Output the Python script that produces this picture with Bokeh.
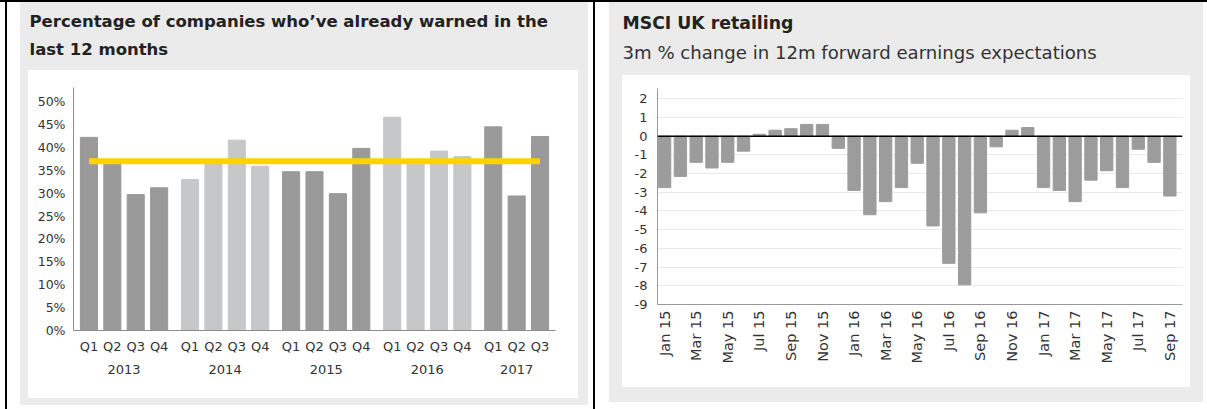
from math import pi
from bokeh.plotting import figure
from bokeh.models import (FactorRange, Range1d, FixedTicker, PrintfTickFormatter, Span, Label)
from bokeh.layouts import row, column
from bokeh.embed import file_html
from bokeh.resources import INLINE

# ---------------- data: left chart ----------------
years = ["2013", "2014", "2015", "2016", "2017"]
quarters_by_year = [["Q1", "Q2", "Q3", "Q4"], ["Q1", "Q2", "Q3", "Q4"],
                    ["Q1", "Q2", "Q3", "Q4"], ["Q1", "Q2", "Q3", "Q4"],
                    ["Q1", "Q2", "Q3"]]
warned_pct = [42.2, 37.0, 29.7, 31.2,
              33.0, 36.8, 41.6, 35.9,
              34.7, 34.7, 29.9, 39.8,
              46.6, 37.2, 39.2, 38.0,
              44.5, 29.4, 42.4]
average_pct = 37.0
left_y_ticks = [0, 5, 10, 15, 20, 25, 30, 35, 40, 45, 50]
left_title_1 = "Percentage of companies who\u2019ve already warned in the"
left_title_2 = "last 12 months"

# ---------------- data: right chart ----------------
months = ["Jan 15", "Feb 15", "Mar 15", "Apr 15", "May 15", "Jun 15", "Jul 15", "Aug 15",
          "Sep 15", "Oct 15", "Nov 15", "Dec 15",
          "Jan 16", "Feb 16", "Mar 16", "Apr 16", "May 16", "Jun 16", "Jul 16", "Aug 16",
          "Sep 16", "Oct 16", "Nov 16", "Dec 16",
          "Jan 17", "Feb 17", "Mar 17", "Apr 17", "May 17", "Jun 17", "Jul 17", "Aug 17",
          "Sep 17"]
earnings_change = [-2.75, -2.15, -1.4, -1.7, -1.4, -0.8, 0.1, 0.32, 0.4, 0.63, 0.63, -0.65,
                   -2.9, -4.2, -3.5, -2.75, -1.45, -4.8, -6.8, -7.95, -4.1, -0.57, 0.32, 0.46,
                   -2.75, -2.9, -3.5, -2.35, -1.85, -2.75, -0.7, -1.4, -3.2]
right_y_ticks = [-9, -8, -7, -6, -5, -4, -3, -2, -1, 0, 1, 2]
right_title = "MSCI UK retailing"
right_subtitle = "3m % change in 12m forward earnings expectations"

PANEL = "#ebebeb"
FONT = "DejaVu Sans"
H = 409
HEAD = 70
W1, W2 = 597, 610

# page decorations (x, y, w, h, colour), topmost first
left_deco = [(28, 70, 550, 328, "#ffffff"), (20, 2, 568, 403, PANEL),
             (0, 0, W1, 2, "#000000"), (5, 0, 2, H, "#000000"), (593, 0, 2, H, "#000000")]
right_deco = [(25, 75, 568, 312, "#ffffff"), (12, 2, 594, 400, PANEL),
              (0, 0, W2, 2, "#000000")]


def css_bg(deco, dy):
    layers = [f"linear-gradient({c},{c}) {x}px {y + dy}px / {w}px {h}px no-repeat"
              for x, y, w, h, c in deco]
    return ", ".join(layers + ["#ffffff"])


def style_axis(ax, size, color="#333333", line="#8c8c8c", standoff=8):
    ax.axis_line_color = line
    ax.major_tick_line_color = None
    ax.minor_tick_line_color = None
    ax.major_tick_out = 0
    ax.major_tick_in = 0
    ax.major_label_standoff = standoff
    ax.major_label_text_font = FONT
    ax.major_label_text_font_size = size
    ax.major_label_text_color = color


def head(width, deco, lines):
    h = figure(width=width, height=HEAD, x_range=Range1d(0, width), y_range=Range1d(HEAD, 0),
               output_backend="svg", toolbar_location=None, title_location=None,
               x_axis_location=None, y_axis_location=None, min_border=0,
               border_fill_color=None, background_fill_color=None, outline_line_color=None,
               frame_align=False, styles={"background": css_bg(deco, 0)})
    h.xgrid.visible = False
    h.ygrid.visible = False
    for x, y, s, size, style, color in lines:
        h.add_layout(Label(x=x, y=y, text=s, text_font=FONT, text_font_size=size,
                           text_font_style=style, text_color=color,
                           text_baseline="alphabetic", text_align="left"))
    return h


# ---------------- left panel ----------------
h1 = head(W1, left_deco, [(29, 21, left_title_1, "16.5px", "bold", "#222222"),
                          (29, 48.5, left_title_2, "16.5px", "bold", "#222222")])

factors = [(y, q) for y, qs in zip(years, quarters_by_year) for q in qs]
bar_colors = ["#c6c7c8" if years.index(f[0]) % 2 else "#9a9a9a" for f in factors]

xr = FactorRange(*factors, group_padding=0.32, factor_padding=0.0,
                 range_padding=0.16, range_padding_units="absolute")
p1 = figure(width=W1, height=H - HEAD, x_range=xr, y_range=Range1d(0, 53.1),
            output_backend="svg", toolbar_location=None, title_location=None,
            min_border_left=73, min_border_right=42, min_border_top=87 - HEAD,
            min_border_bottom=79,
            border_fill_color=None, background_fill_color="white", outline_line_color=None,
            frame_align=False, styles={"background": css_bg(left_deco, -HEAD)})

p1.vbar(x=factors, top=warned_pct, width=0.73, color=bar_colors)
p1.line(x=[factors[0], factors[-1]], y=[average_pct, average_pct], line_width=6, color="#ffd200")

p1.xgrid.visible = False
p1.ygrid.visible = False
xa = p1.xaxis[0]
style_axis(xa, "13px", standoff=8)
xa.group_text_font = FONT
xa.group_text_font_size = "13px"
xa.group_text_font_style = "normal"
xa.group_text_color = "#333333"
xa.separator_line_color = None

ya = p1.yaxis[0]
ya.ticker = FixedTicker(ticks=left_y_ticks)
ya.formatter = PrintfTickFormatter(format="%d%%")
style_axis(ya, "12.5px", standoff=8)

# ---------------- right panel ----------------
h2 = head(W2, right_deco, [(25, 22.5, right_title, "17.3px", "bold", "#222222"),
                           (25, 51.5, right_subtitle, "18.1px", "normal", "#333333")])

idx = list(range(len(months)))
p2 = figure(width=W2, height=H - HEAD, x_range=Range1d(-0.45, 32.8), y_range=Range1d(-9, 2.55),
            output_backend="svg", toolbar_location=None, title_location=None,
            min_border_left=60, min_border_right=25, min_border_top=88 - HEAD,
            min_border_bottom=105,
            border_fill_color=None, background_fill_color="white", outline_line_color=None,
            frame_align=False, styles={"background": css_bg(right_deco, -HEAD)})

p2.vbar(x=idx, top=earnings_change, width=0.78, color="#9c9c9c")
p2.add_layout(Span(location=0, dimension="width", line_color="black", line_width=1.5))

p2.xgrid.visible = False
p2.ygrid.ticker = FixedTicker(ticks=right_y_ticks)
p2.ygrid.grid_line_color = "#e9e9e9"

xb = p2.xaxis[0]
xb.ticker = FixedTicker(ticks=idx[::2])
xb.major_label_overrides = {i: months[i] for i in idx[::2]}
xb.major_label_orientation = pi / 2
style_axis(xb, "14.5px", line="#999999", standoff=6)

yb = p2.yaxis[0]
yb.ticker = FixedTicker(ticks=right_y_ticks)
yb.formatter = PrintfTickFormatter(format="%d")
style_axis(yb, "13px", line="#999999", standoff=10)

layout = row(column(h1, p1, spacing=0), column(h2, p2, spacing=0), spacing=0)
open("out.html", "w").write(file_html(layout, INLINE))
